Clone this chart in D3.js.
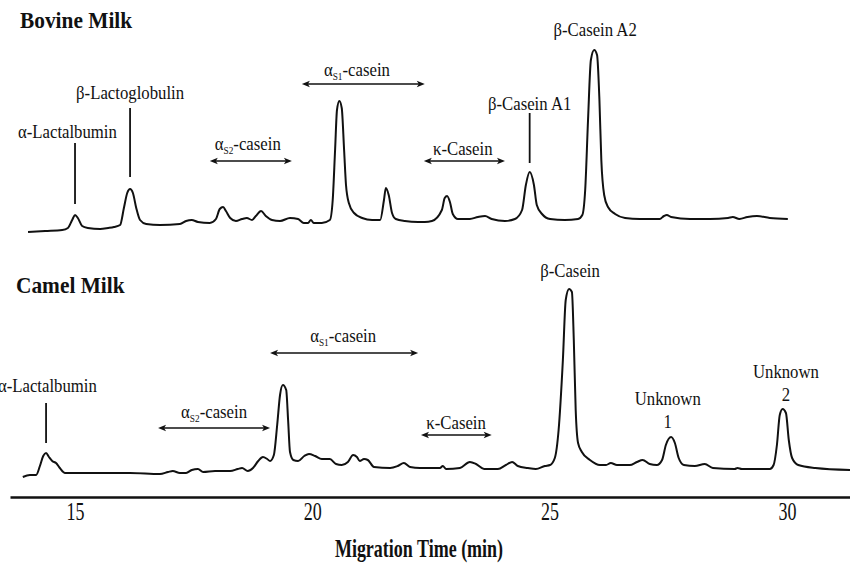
<!DOCTYPE html>
<html>
<head>
<meta charset="utf-8">
<script src="https://cdn.jsdelivr.net/npm/d3@7"></script>
<style>
  html, body { margin: 0; padding: 0; background: #fff; }
  svg { display: block; }
  text { font-family: "Liberation Serif", "DejaVu Serif", serif; fill: #111; }
</style>
</head>
<body>
<div id="chart"></div>
<script>
// ---------------- DATA ----------------
// Migration time (min) and detector signal (arbitrary units)
const bovineTime = [14.01,14.37,14.73,14.85,14.94,15.00,15.06,15.15,15.27,15.53,15.70,15.82,15.95,16.03,16.10,16.16,16.22,16.29,16.37,16.50,16.79,17.21,17.34,17.46,17.59,17.84,17.97,18.05,18.12,18.18,18.27,18.39,18.52,18.62,18.73,18.81,18.92,19.02,19.15,19.32,19.53,19.70,19.82,19.91,19.97,20.03,20.20,20.37,20.43,20.48,20.52,20.57,20.62,20.67,20.71,20.77,20.88,21.05,21.26,21.43,21.51,21.55,21.61,21.68,21.76,21.95,22.23,22.37,22.52,22.73,22.79,22.84,22.90,22.96,23.07,23.32,23.49,23.64,23.78,24.06,24.27,24.42,24.50,24.58,24.67,24.73,24.84,25.01,25.32,25.60,25.69,25.75,25.81,25.87,25.94,26.00,26.05,26.09,26.15,26.23,26.38,26.59,26.90,27.32,27.41,27.47,27.56,27.96,28.38,28.76,28.86,29.00,29.17,29.37,29.64,30.02];
const bovineSignal = [8,9,10,12,20,25,22,14,12,11,12,13,15,32,47,51,47,32,20,16,15,16,19,20,18,17,21,31,33,29,22,19,21,22,20,24,29,24,20,19,22,21,17,17,20,17,17,20,40,90,130,139,132,90,55,37,27,22,20,20,40,52,45,27,21,19,18,18,19,30,42,44,38,26,21,21,23,24,21,19,21,30,55,68,55,35,26,21,20,21,25,50,120,180,190,185,140,80,45,33,26,22,21,21,24,25,23,21,21,22,23,21,23,24,22,21];

const camelTime = [13.90,14.05,14.18,14.26,14.33,14.39,14.45,14.52,14.60,14.68,14.79,15.32,16.16,16.79,16.96,17.06,17.21,17.34,17.46,17.59,17.70,17.95,18.27,18.43,18.52,18.64,18.75,18.86,18.96,19.05,19.11,19.19,19.26,19.32,19.38,19.45,19.49,19.53,19.60,19.70,19.83,19.93,20.06,20.20,20.37,20.50,20.62,20.75,20.86,20.94,21.00,21.09,21.17,21.30,21.64,21.80,21.93,22.06,22.27,22.69,22.75,22.82,23.11,23.32,23.45,23.62,23.91,24.08,24.21,24.33,24.54,24.71,24.90,25.01,25.11,25.19,25.28,25.34,25.41,25.47,25.51,25.55,25.60,25.68,25.85,26.06,26.19,26.29,26.42,26.69,26.84,26.96,27.11,27.26,27.37,27.45,27.56,27.64,27.72,27.83,28.06,28.27,28.44,28.90,28.96,29.05,29.64,29.72,29.79,29.85,29.91,29.98,30.04,30.11,30.24,30.60,31.33];
const camelSignal = [3,5,5,14,24,27,23,19,17,12,7,7,7,6,8,9,7,7,10,11,8,9,9,11,12,9,12,19,23,21,19,25,55,85,95,90,60,28,20,19,24,26,24,21,21,16,15,18,25,23,19,21,20,13,12,14,17,13,12,12,14,11,12,18,16,11,11,15,18,14,12,11,14,15,22,50,120,180,191,188,140,70,37,28,20,15,15,17,15,15,18,20,16,15,20,35,43,37,22,15,14,16,12,11,12,11,11,15,35,65,71,67,40,22,15,12,10];

const xTicks = [15, 20, 25, 30];
const xTitle = "Migration Time (min)";
const panelTitles = ["Bovine Milk", "Camel Milk"];

// ---------------- LAYOUT ----------------
const W = 850, H = 566;
const svg = d3.select("#chart").append("svg").attr("width", W).attr("height", H);

const x = d3.scaleLinear().domain([13.63, 31.33]).range([10, 850]);
const yBov = d3.scaleLinear().domain([0, 200]).range([240, 40]);
const yCam = d3.scaleLinear().domain([0, 200]).range([480, 280]);

// arrow markers
const defs = svg.append("defs");
function marker(id, path) {
  defs.append("marker").attr("id", id)
    .attr("viewBox", "0 0 10 10").attr("refX", 5).attr("refY", 5)
    .attr("markerWidth", 9).attr("markerHeight", 8)
    .attr("markerUnits", "userSpaceOnUse").attr("orient", "auto")
    .append("path").attr("d", path).attr("fill", "#111");
}
marker("arrEnd", "M0,1 L10,5 L0,9 L2.5,5 Z");
marker("arrStart", "M10,1 L0,5 L10,9 L7.5,5 Z");

// traces
const line = (ys) => d3.line().x(d => x(d[0])).y(d => ys(d[1])).curve(d3.curveMonotoneX);
svg.append("path").datum(d3.zip(bovineTime, bovineSignal))
  .attr("d", line(yBov)).attr("fill", "none").attr("stroke", "#111")
  .attr("stroke-width", 2).attr("stroke-linejoin", "round");
svg.append("path").datum(d3.zip(camelTime, camelSignal))
  .attr("d", line(yCam)).attr("fill", "none").attr("stroke", "#111")
  .attr("stroke-width", 2).attr("stroke-linejoin", "round");

// axis
const axis = d3.axisBottom(x).tickValues(xTicks).tickSize(0).tickSizeOuter(0);
const gAx = svg.append("g").attr("transform", "translate(0,497)").call(axis);
gAx.select(".domain").attr("stroke", "#111").attr("stroke-width", 2.5);
gAx.selectAll(".tick text")
  .attr("font-size", 25).attr("fill", "#111")
  .attr("y", 23).attr("dy", 0)
  .attr("transform", "scale(0.72,1)");

// generic condensed text helper
function ctext(px, py, str, size, sx, anchor, bold) {
  return svg.append("text")
    .attr("transform", `translate(${px},${py}) scale(${sx},1)`)
    .attr("text-anchor", anchor || "middle")
    .attr("font-size", size)
    .attr("font-weight", bold ? "bold" : null)
    .text(str);
}

ctext(419, 557, xTitle, 25, 0.72, "middle", true);

// panel titles
ctext(20, 28, panelTitles[0], 22.5, 0.95, "start", true);
ctext(16, 293, panelTitles[1], 22.5, 0.95, "start", true);

// ---------------- ANNOTATIONS ----------------
const FS = 18, SX = 0.93;
function label(ys, t, v, str, anchor) {
  ctext(x(t), ys(v), str, FS, SX, anchor);
}
function subLabel(ys, t, v, sub) {
  const tx = svg.append("text")
    .attr("transform", `translate(${x(t)},${ys(v)}) scale(${SX},1)`)
    .attr("text-anchor", "middle").attr("font-size", FS);
  tx.append("tspan").text("α");
  tx.append("tspan").attr("font-size", 10).attr("dy", 4).text(sub);
  tx.append("tspan").attr("dy", -4).text("-casein");
}
function leader(ys, t, v0, v1) {
  svg.append("line").attr("x1", x(t)).attr("x2", x(t)).attr("y1", ys(v0)).attr("y2", ys(v1))
    .attr("stroke", "#111").attr("stroke-width", 1.8);
}
function arrow(ys, t0, t1, v) {
  svg.append("line").attr("x1", x(t0) + 4).attr("x2", x(t1) - 4).attr("y1", ys(v)).attr("y2", ys(v))
    .attr("stroke", "#111").attr("stroke-width", 1.6)
    .attr("marker-start", "url(#arrStart)").attr("marker-end", "url(#arrEnd)");
}

// Bovine
label(yBov, 14.84, 102, "α-Lactalbumin");
leader(yBov, 15.00, 97, 36);
label(yBov, 16.16, 141, "β-Lactoglobulin");
leader(yBov, 16.16, 132, 63);
subLabel(yBov, 18.64, 90, "S2");
arrow(yBov, 17.84, 19.57, 79);
subLabel(yBov, 20.94, 164, "S1");
arrow(yBov, 19.78, 22.37, 156);
label(yBov, 23.17, 85, "κ-Casein");
arrow(yBov, 22.35, 24.06, 79);
label(yBov, 24.58, 130, "β-Casein A1");
leader(yBov, 24.58, 127, 77);
label(yBov, 25.96, 204, "β-Casein A2");

// Camel
label(yCam, 15.46, 88, "α-Lactalbumin", "end");
leader(yCam, 14.39, 77, 37);
subLabel(yCam, 17.93, 62, "S2");
arrow(yCam, 16.75, 19.11, 52);
subLabel(yCam, 20.65, 138, "S1");
arrow(yCam, 19.11, 22.23, 127);
label(yCam, 23.03, 51, "κ-Casein");
arrow(yCam, 22.29, 23.78, 45);
label(yCam, 25.43, 203, "β-Casein");
label(yCam, 27.49, 75, "Unknown");
label(yCam, 27.49, 52, "1");
label(yCam, 29.98, 102, "Unknown");
label(yCam, 29.98, 79, "2");
</script>
</body>
</html>
